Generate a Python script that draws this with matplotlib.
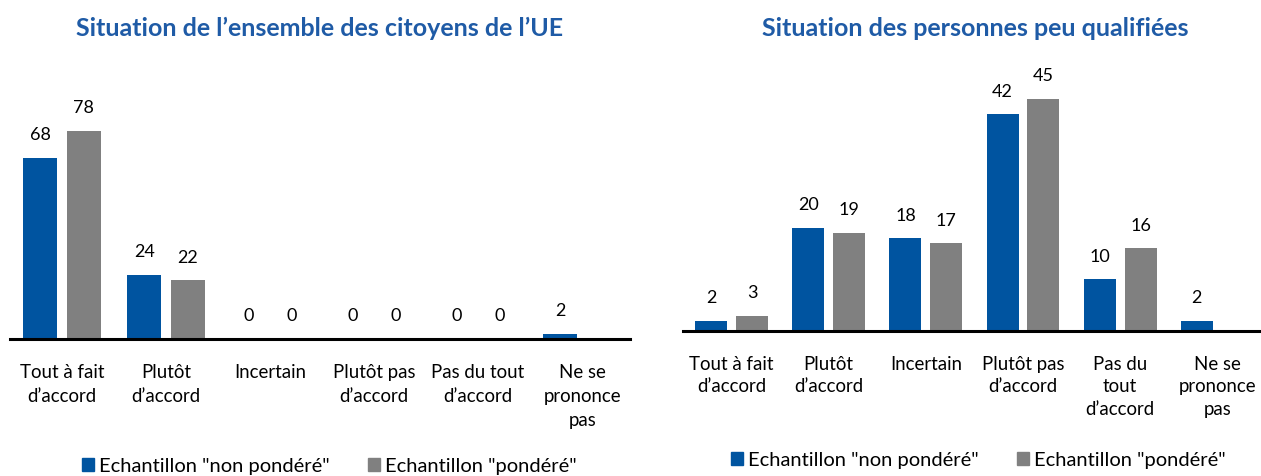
import matplotlib
matplotlib.use("Agg")
import matplotlib.pyplot as plt
import numpy as np
from matplotlib.patches import Patch

plt.rcParams['font.family'] = ['Lato', 'DejaVu Sans']

left_title = "Situation de l’ensemble des citoyens de l’UE"
right_title = "Situation des personnes peu qualifiées"
left_cats = ["Tout à fait\nd’accord", "Plutôt\nd’accord", "Incertain",
             "Plutôt pas\nd’accord", "Pas du tout\nd’accord", "Ne se\nprononce\npas"]
right_cats = ["Tout à fait\nd’accord", "Plutôt\nd’accord", "Incertain",
              "Plutôt pas\nd’accord", "Pas du\ntout\nd’accord", "Ne se\nprononce\npas"]
series_names = ['Echantillon "non pondéré"', 'Echantillon "pondéré"']
left_unweighted = [68, 24, 0, 0, 0, 2]
left_weighted = [78, 22, 0, 0, 0, None]
right_unweighted = [2, 20, 18, 42, 10, 2]
right_weighted = [3, 19, 17, 45, 16, None]

BLUE = "#0054A0"
GREY = "#808080"
TITLE_C = "#1F5BA6"
FS = 13.4

fig = plt.figure(figsize=(12.61, 4.77), dpi=100)
axL = fig.add_axes([10/1261, 1-340/477, 620/1261, 240/477])
axR = fig.add_axes([683/1261, 1-332/477, 578/1261, 258/477])

def draw(ax, cats, s1, s2, ylim, xmax, ls):
    x = np.arange(len(cats))
    w = 0.33
    off = 0.21
    for vals, sgn, col in ((s1, -1, BLUE), (s2, 1, GREY)):
        for xi, v in zip(x, vals):
            if v is None:
                continue
            ax.bar(xi + sgn*off, v, width=w, color=col, edgecolor='none')
            ax.annotate(str(v), (xi + sgn*off, v), xytext=(0, 17),
                        textcoords='offset points', ha='center', va='center',
                        fontsize=13, color='black')
    ax.set_xlim(-0.5, xmax)
    ax.set_ylim(0, ylim)
    ax.set_xticks(x)
    ax.set_xticklabels(cats, fontsize=FS, linespacing=ls)
    ax.tick_params(axis='x', length=0, pad=17)
    ax.set_yticks([])
    for s in ('top', 'right', 'left'):
        ax.spines[s].set_visible(False)
    ax.spines['bottom'].set_linewidth(2.2)
    ax.spines['bottom'].set_color('black')

draw(axL, left_cats, left_unweighted, left_weighted, 90, 5.46, 1.5)
draw(axR, right_cats, right_unweighted, right_weighted, 50, 5.45, 1.42)

fig.text(320/1261, 1-28/477, left_title, ha='center', va='center',
         fontsize=18, fontweight='bold', color=TITLE_C)
fig.text(975/1261, 1-28/477, right_title, ha='center', va='center',
         fontsize=18, fontweight='bold', color=TITLE_C)

handles = [Patch(color=BLUE), Patch(color=GREY)]
fig.legend(handles, series_names, loc='center', bbox_to_anchor=(329/1261, 1-467/477),
           ncol=2, frameon=False, fontsize=14.5, handlelength=0.6, handleheight=0.6,
           handletextpad=0.25, columnspacing=1.9)
fig.legend(handles, series_names, loc='center', bbox_to_anchor=(978/1261, 1-461/477),
           ncol=2, frameon=False, fontsize=14.5, handlelength=0.6, handleheight=0.6,
           handletextpad=0.25, columnspacing=1.9)

fig.savefig("out.png", dpi=100)
